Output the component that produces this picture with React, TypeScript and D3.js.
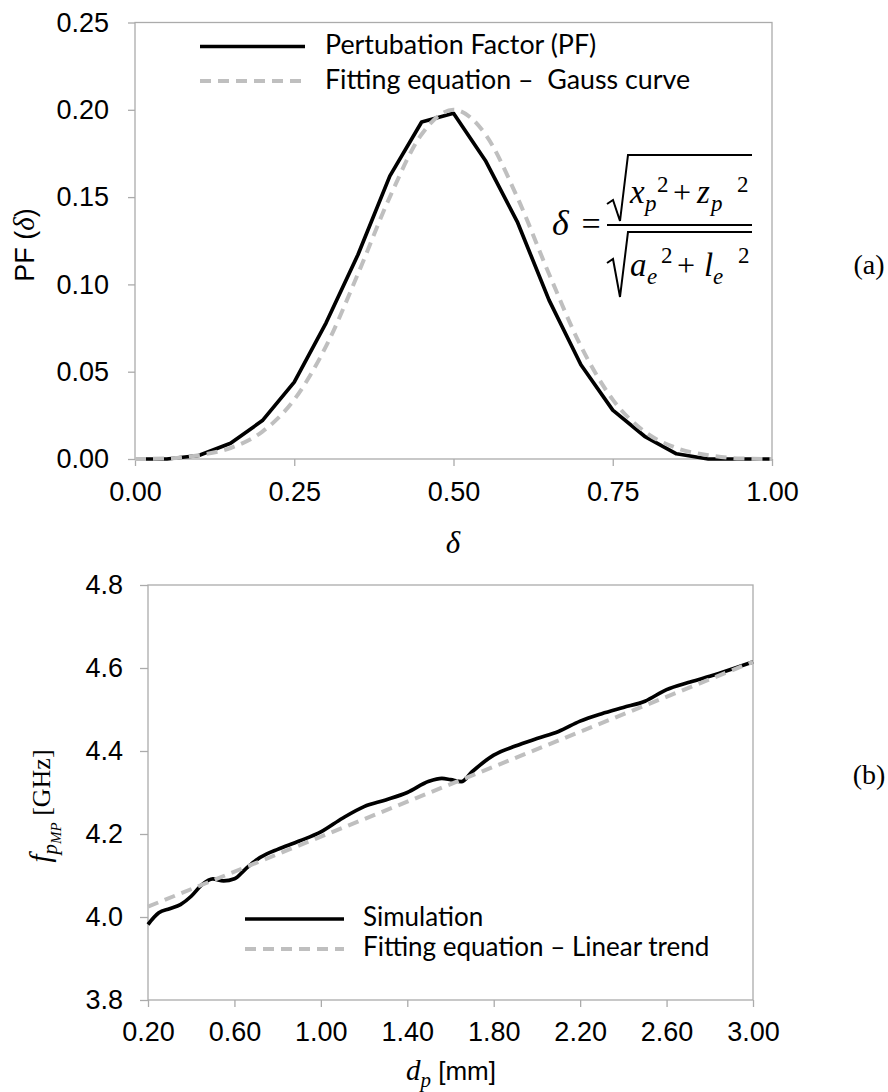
import * as d3 from "d3";
import React, { useEffect, useRef } from "react";

// (a) perturbation factor vs delta
const deltaValues = [0, 0.05, 0.1, 0.15, 0.2, 0.25, 0.3, 0.35, 0.4, 0.45, 0.5, 0.55, 0.6, 0.65, 0.7, 0.75, 0.8, 0.85, 0.9, 0.95, 1.0];
const pfValues = [0, 0, 0.002, 0.009, 0.022, 0.044, 0.078, 0.117, 0.162, 0.193, 0.198, 0.171, 0.136, 0.091, 0.054, 0.028, 0.013, 0.003, 0, 0, 0];
const gaussValues = [0, 0.0003, 0.0022, 0.0063, 0.0157, 0.034, 0.0646, 0.106, 0.15, 0.186, 0.2, 0.186, 0.15, 0.106, 0.0646, 0.034, 0.0157, 0.0063, 0.0022, 0.0003, 0];
const pfXTicks = [0, 0.25, 0.5, 0.75, 1.0];
const pfYTicks = [0, 0.05, 0.1, 0.15, 0.2, 0.25];

// (b) resonance frequency vs d_p
const dpValues = [0.2, 0.25, 0.3, 0.35, 0.4, 0.45, 0.5, 0.55, 0.6, 0.65, 0.7, 0.75, 0.8, 0.9, 1.0, 1.1, 1.2, 1.3, 1.4, 1.5, 1.56, 1.6, 1.65, 1.7, 1.8, 1.9, 2.0, 2.1, 2.2, 2.3, 2.4, 2.5, 2.6, 2.7, 2.8, 2.9, 3.0];
const simValues = [3.982, 4.01, 4.02, 4.03, 4.05, 4.078, 4.092, 4.087, 4.092, 4.115, 4.137, 4.152, 4.163, 4.183, 4.205, 4.238, 4.266, 4.282, 4.3, 4.327, 4.334, 4.331, 4.326, 4.35, 4.39, 4.412, 4.43, 4.447, 4.472, 4.49, 4.505, 4.52, 4.548, 4.565, 4.58, 4.597, 4.615];
const trendD = [0.2, 3.0];
const trendF = [4.025, 4.615];
const fXTicks = [0.2, 0.6, 1.0, 1.4, 1.8, 2.2, 2.6, 3.0];
const fYTicks = [3.8, 4.0, 4.2, 4.4, 4.6, 4.8];

const AXIS = "#ababab";
const FIT = "#bfbfbf";
const SANS = "'Liberation Sans', Arial, sans-serif";
const LEG = "Lato, 'Open Sans', sans-serif";
const SERIF = "'Liberation Serif', 'Times New Roman', serif";

const xA = d3.scaleLinear().domain([0, 1]).range([135, 772]);
const yA = d3.scaleLinear().domain([0, 0.25]).range([459, 22.5]);
const xB = d3.scaleLinear().domain([0.2, 3.0]).range([148, 753]);
const yB = d3.scaleLinear().domain([3.8, 4.8]).range([1000, 585]);

const styleAxis = (g: any) => {
  g.select(".domain").remove();
  g.selectAll(".tick line").attr("stroke", AXIS).attr("stroke-width", 1.3);
  g.selectAll(".tick text")
    .attr("fill", "#000")
    .style("font-family", SANS)
    .style("font-size", "27px");
};

export default function App() {
  const axAx = useRef<SVGGElement>(null);
  const ayAx = useRef<SVGGElement>(null);
  const bxAx = useRef<SVGGElement>(null);
  const byAx = useRef<SVGGElement>(null);

  useEffect(() => {
    d3.select(axAx.current)
      .call(d3.axisBottom(xA).tickValues(pfXTicks).tickFormat(d3.format(".2f")).tickSize(7).tickPadding(16) as any)
      .call(styleAxis);
    d3.select(ayAx.current)
      .call(d3.axisLeft(yA).tickValues(pfYTicks).tickFormat(d3.format(".2f")).tickSize(7).tickPadding(19) as any)
      .call(styleAxis);
    d3.select(bxAx.current)
      .call(d3.axisBottom(xB).tickValues(fXTicks).tickFormat(d3.format(".2f")).tickSize(7).tickPadding(15) as any)
      .call(styleAxis);
    d3.select(byAx.current)
      .call(d3.axisLeft(yB).tickValues(fYTicks).tickFormat(d3.format(".1f")).tickSize(8).tickPadding(17) as any)
      .call(styleAxis);
  }, []);

  const pfLine = d3.line<number>().x((d, i) => xA(deltaValues[i])).y((d) => yA(d));
  const gaussLine = d3
    .line<number>()
    .x((d, i) => xA(deltaValues[i]))
    .y((d) => yA(d))
    .curve(d3.curveMonotoneX);
  const simLine = d3
    .line<number>()
    .x((d, i) => xB(dpValues[i]))
    .y((d) => yB(d))
    .curve(d3.curveMonotoneX);
  const trendLine = d3.line<number>().x((d, i) => xB(trendD[i])).y((d) => yB(d));

  const italic = { fontFamily: SERIF, fontStyle: "italic" } as const;
  const roman = { fontFamily: SERIF } as const;

  return (
    <svg width={888} height={1092} style={{ position: "absolute", left: 0, top: 0, background: "#fff" }}>
      {/* ---------- chart (a) ---------- */}
      <rect x={xA(0)} y={yA(0.25)} width={xA(1) - xA(0)} height={yA(0) - yA(0.25)} fill="none" stroke={AXIS} strokeWidth={1.3} />
      <g ref={axAx} transform={`translate(0,${yA(0)})`} />
      <g ref={ayAx} transform={`translate(${xA(0)},0)`} />
      <path d={pfLine(pfValues) || ""} fill="none" stroke="#000" strokeWidth={3.7} strokeLinejoin="round" />
      <path d={gaussLine(gaussValues) || ""} fill="none" stroke={FIT} strokeWidth={4} strokeDasharray="11 7" />

      {/* legend (a) */}
      <line x1={200} x2={305} y1={46.5} y2={46.5} stroke="#000" strokeWidth={3.5} />
      <line x1={200} x2={305} y1={81} y2={81} stroke={FIT} strokeWidth={4} strokeDasharray="11 7" />
      <text x={325} y={54} style={{ fontFamily: LEG, fontSize: 26.8 }}>Pertubation Factor (PF)</text>
      <text x={325} y={89} style={{ fontFamily: LEG, fontSize: 26.8 }} xmlSpace="preserve">Fitting equation –  Gauss curve</text>

      {/* formula */}
      <text x={552} y={235} style={{ ...italic, fontSize: 36 }}>δ</text>
      <text x={591} y={235} textAnchor="middle" style={{ ...roman, fontSize: 34 }}>=</text>
      <line x1={607} x2={752} y1={225} y2={225} stroke="#000" strokeWidth={2} />
      <path d="M607,204 L613,200 L620,221 L628,155 L752,155" fill="none" stroke="#000" strokeWidth={2} />
      <path d="M607,263 L613,259 L620,297 L628,232 L752,232" fill="none" stroke="#000" strokeWidth={2} />
      <text x={630} y={203} style={{ ...italic, fontSize: 33 }}>x</text>
      <text x={645} y={211} style={{ ...italic, fontSize: 23 }}>p</text>
      <text x={657} y={192} style={{ ...roman, fontSize: 23 }}>2</text>
      <text x={682} y={203} textAnchor="middle" style={{ ...roman, fontSize: 32 }}>+</text>
      <text x={697} y={203} style={{ ...italic, fontSize: 33 }}>z</text>
      <text x={711} y={211} style={{ ...italic, fontSize: 23 }}>p</text>
      <text x={737} y={192} style={{ ...roman, fontSize: 23 }}>2</text>
      <text x={630} y={276} style={{ ...italic, fontSize: 33 }}>a</text>
      <text x={647} y={284} style={{ ...italic, fontSize: 23 }}>e</text>
      <text x={661} y={263} style={{ ...roman, fontSize: 23 }}>2</text>
      <text x={686} y={276} textAnchor="middle" style={{ ...roman, fontSize: 32 }}>+</text>
      <text x={704} y={276} style={{ ...italic, fontSize: 33 }}>l</text>
      <text x={713} y={284} style={{ ...italic, fontSize: 23 }}>e</text>
      <text x={738} y={263} style={{ ...roman, fontSize: 23 }}>2</text>

      {/* axis titles (a) */}
      <text transform="translate(34,245) rotate(-90)" textAnchor="middle" style={{ fontFamily: SANS, fontSize: 27 }}>
        PF (<tspan style={{ ...italic, fontSize: 29 }}>δ</tspan>)
      </text>
      <text x={453} y={553} textAnchor="middle" style={{ ...italic, fontSize: 31 }}>δ</text>
      <text x={869} y={274} textAnchor="middle" style={{ ...roman, fontSize: 28 }}>(a)</text>

      {/* ---------- chart (b) ---------- */}
      <rect x={xB(0.2)} y={yB(4.8)} width={xB(3.0) - xB(0.2)} height={yB(3.8) - yB(4.8)} fill="none" stroke={AXIS} strokeWidth={1.3} />
      <g ref={bxAx} transform={`translate(0,${yB(3.8)})`} />
      <g ref={byAx} transform={`translate(${xB(0.2)},0)`} />
      <path d={simLine(simValues) || ""} fill="none" stroke="#000" strokeWidth={3.7} strokeLinejoin="round" />
      <path d={trendLine(trendF) || ""} fill="none" stroke={FIT} strokeWidth={4} strokeDasharray="11 7" />

      {/* legend (b) */}
      <line x1={245} x2={344} y1={919} y2={919} stroke="#000" strokeWidth={3.5} />
      <line x1={245} x2={344} y1={949} y2={949} stroke={FIT} strokeWidth={4} strokeDasharray="11 7" />
      <text x={363} y={926} style={{ fontFamily: LEG, fontSize: 26 }}>Simulation</text>
      <text x={363} y={956} style={{ fontFamily: LEG, fontSize: 26 }}>Fitting equation – Linear trend</text>

      {/* axis titles (b) */}
      <text transform="translate(50,806) rotate(-90)" textAnchor="middle" style={{ ...roman, fontSize: 26 }}>
        <tspan style={{ ...italic, fontSize: 29 }}>f</tspan>
        <tspan dy={7} style={{ ...italic, fontSize: 21 }}>p</tspan>
        <tspan dy={4} style={{ ...italic, fontSize: 15 }}>MP</tspan>
        <tspan dy={-11}> [GHz]</tspan>
      </text>
      <text x={451} y={1080} textAnchor="middle" style={{ fontFamily: SANS, fontSize: 26 }}>
        <tspan style={{ ...italic, fontSize: 29 }}>d</tspan>
        <tspan dy={7} style={{ ...italic, fontSize: 21 }}>p</tspan>
        <tspan dy={-7}> [mm]</tspan>
      </text>
      <text x={869} y={784} textAnchor="middle" style={{ ...roman, fontSize: 28 }}>(b)</text>
    </svg>
  );
}
